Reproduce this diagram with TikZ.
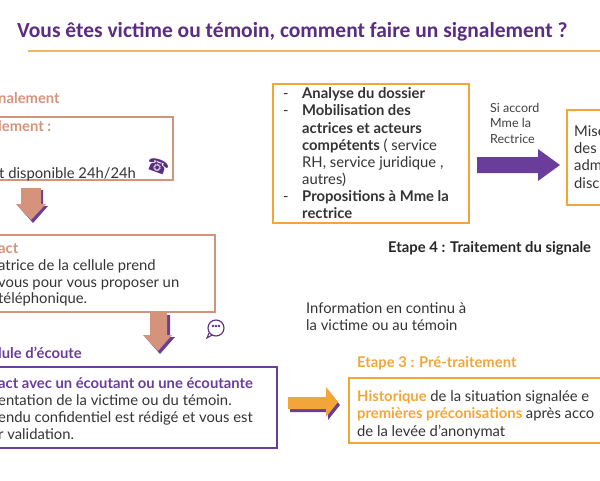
\documentclass[tikz,border=0pt]{standalone}
\usepackage{fontspec}
\setmainfont{Lato}
\newfontfamily\titlefont{Carlito}
\begin{document}
\begin{tikzpicture}[x=1pt,y=-1pt,
  txt/.style={anchor=base west,inner sep=0pt,font=\fontsize{14.8}{16}\selectfont,text=black!80},
  bt/.style={txt,font=\bfseries\fontsize{14.8}{16}\selectfont},
  small/.style={anchor=base west,inner sep=0pt,font=\fontsize{12.5}{14}\selectfont,text=black!75},
  sal/.style={draw=salm,line width=1.3pt},
  pur/.style={draw=purp,line width=1.3pt},
  ora/.style={draw=oran,line width=1.3pt}]
\definecolor{salm}{HTML}{D4937A}
\definecolor{purp}{HTML}{6A3D9A}
\definecolor{oran}{HTML}{F2A63A}
\definecolor{gold}{HTML}{E8B86A}
\definecolor{darkp}{HTML}{5A2D82}
\useasboundingbox (0,0) rectangle (600,480);
\clip (0,0) rectangle (600,480);
% title
\node[anchor=base west,inner sep=0pt,font=\titlefont\bfseries\fontsize{21.5}{24}\selectfont,text=darkp] (title) at (17,37) {Vous êtes victime ou témoin, comment faire un signalement ?};
\draw[gold,line width=1.2pt] (28,51) -- (600,51);
% step 1
\node[bt,text=salm] (t1) at (-2,103) {nalement};
\draw[sal] (-5,117) rectangle (173,180);
\node[bt,text=salm] (t1a) at (-2,131) {lement :};
\node[txt] (t1b) at (-1,178) {t disponible 24h/24h};
% phone icon
\node[inner sep=0pt,font=\fontsize{18}{18}\selectfont,text=darkp,rotate=-20] (phone) at (158,166) {\fontspec{DejaVu Sans}\symbol{"260E}};
% arrow 1
\fill[purp] (23,190) -- (43,190) -- (43,206) -- (48,206) -- (33,223) -- (18,206) -- (23,206) -- cycle;
\fill[salm] (21,188) -- (41,188) -- (41,204) -- (46,204) -- (31,220) -- (16,204) -- (21,204) -- cycle;
% step 2
\draw[sal] (-5,235) rectangle (215,312);
\node[bt,text=salm] (t2) at (-2,253) {act};
\node[txt] (t2a) at (-2,270) {atrice de la cellule prend};
\node[txt] (t2b) at (-2,287) {vous pour vous proposer un};
\node[txt] (t2c) at (-2,303) {téléphonique.};
% arrow 2
\fill[purp] (152,315) -- (170,315) -- (170,337) -- (175,337) -- (160,354) -- (145,337) -- (152,337) -- cycle;
\fill[salm] (150,313) -- (167,313) -- (167,335) -- (172,335) -- (158,351) -- (143,335) -- (150,335) -- cycle;
% chat icon
\begin{scope}[draw=darkp,line width=1.1pt]
\draw (216,328) circle (8);
\draw (213,326) circle (0.6) (216,326) circle (0.6) (219,326) circle (0.6);
\draw (209,333) -- (207,338) -- (212,335);
\end{scope}
% step 3 (cellule)
\node[bt,text=purp] (t3) at (-2,358) {lule d’écoute};
\draw[pur] (-5,367) rectangle (277,448);
\node[bt,text=purp] (t3a) at (-2,388) {act avec un écoutant ou une écoutante};
\node[txt] (t3b) at (-2,405) {entation de la victime ou du témoin.};
\node[txt] (t3c) at (-2,422) {endu confidentiel est rédigé et vous est};
\node[txt] (t3d) at (-2,439) {r validation.};
% orange arrow
\fill[purp] (290,399) -- (328,399) -- (328,390) -- (340,405) -- (328,420) -- (328,412) -- (290,412) -- cycle;
\fill[oran] (288,397) -- (326,397) -- (326,387) -- (338,402) -- (326,417) -- (326,409) -- (288,409) -- cycle;
% info
\node[txt] (info1) at (306,313) {Information en continu à};
\node[txt] (info2) at (306,330) {la victime ou au témoin};
% etape 3
\node[bt,text=oran] (e3) at (357,367) {Etape 3 : Pré-traitement};
\draw[ora] (349,378) rectangle (610,443);
\node[txt] (h1) at (357,401) {\textcolor{oran}{\bfseries Historique} de la situation signalée e};
\node[txt] (h2) at (357,418) {\textcolor{oran}{\bfseries premières préconisations} après acco};
\node[txt] (h3) at (357,436) {de la levée d’anonymat};
% step 4 box
\draw[ora] (273,84) rectangle (469,223);
\foreach \yy in {98,115,201} \node[txt] at (283,\yy) {-};
\node[bt] (b1) at (302,98) {Analyse du dossier};
\node[bt] (b2) at (302,115) {Mobilisation des};
\node[bt] (b3) at (302,133) {actrices et acteurs};
\node[txt] (b4) at (302,150) {\textbf{compétents} ( service};
\node[txt] (b5) at (302,167) {RH, service juridique ,};
\node[txt] (b6) at (302,184) {autres)};
\node[bt] (b7) at (302,201) {Propositions à Mme la};
\node[bt] (b8) at (302,218) {rectrice};
% si accord
\node[small] (s1) at (490,112) {Si accord};
\node[small] (s2) at (490,127) {Mme la};
\node[small] (s3) at (490,143) {Rectrice};
% purple arrow
\fill[purp] (477,157) -- (538,157) -- (538,149) -- (560,165) -- (538,181) -- (538,173) -- (477,173) -- cycle;
% right box
\draw[ora] (567,110) rectangle (610,205);
\node[txt] (m1) at (574,136) {Mise};
\node[txt] (m2) at (574,153) {des};
\node[txt] (m3) at (574,170) {adm};
\node[txt] (m4) at (574,188) {disc};
% etape 4
\node[bt,text=black!85] (e4) at (388,252) {Etape 4 : Traitement du signale};
\end{tikzpicture}
\end{document}
